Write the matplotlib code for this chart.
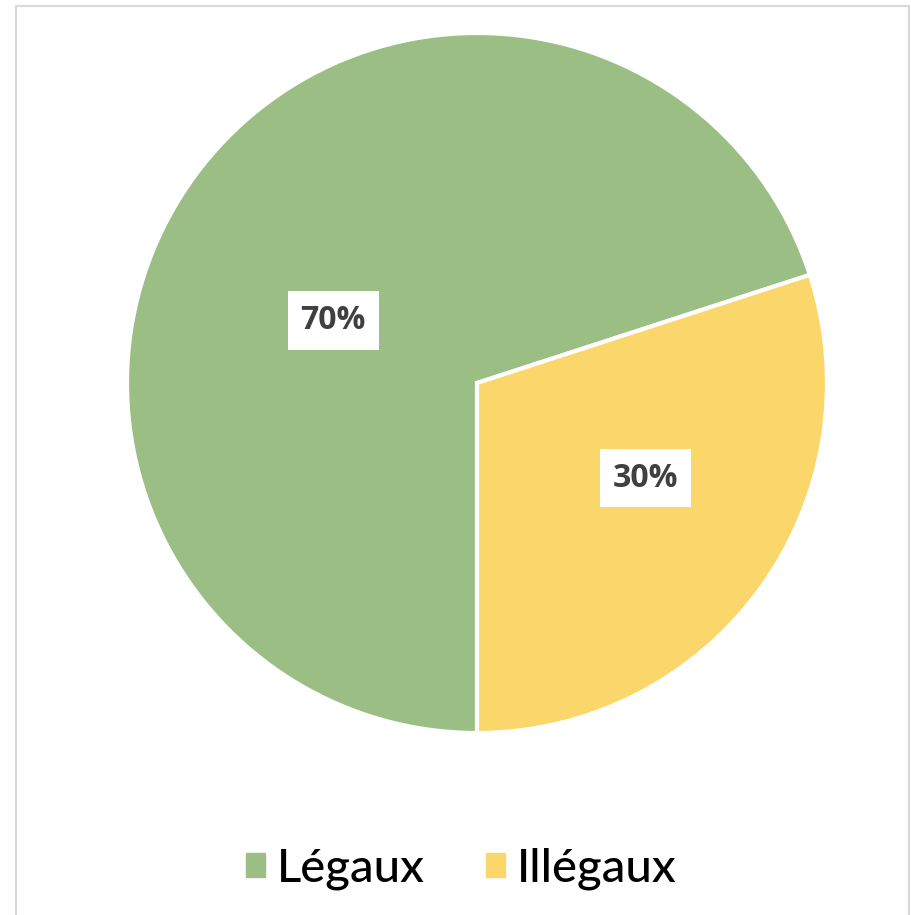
import matplotlib
matplotlib.use("Agg")
import numpy as np
import matplotlib.pyplot as plt
import matplotlib.patches as mpatches

# data
categories = ["Légaux", "Illégaux"]
shares = [70, 30]
colors = ["#9BBE84", "#FBD66B"]

fig = plt.figure(figsize=(9.12, 9.15), dpi=100)
fig.patch.set_facecolor("white")

# light grey frame around the chart area (open at the bottom)
frame = mpatches.Rectangle((16 / 912, -0.05), (909 - 16) / 912, 1.05 - 6 / 915,
                           transform=fig.transFigure, fill=False,
                           edgecolor="#D9D9D9", linewidth=1.5)
fig.add_artist(frame)

cx, cy, r = 477 / 912, 1 - 383 / 915, 350
ax = fig.add_axes([cx - r / 912, cy - r / 915, 2 * r / 912, 2 * r / 915])

wedges, _ = ax.pie(shares, colors=colors, startangle=-90, counterclock=False,
                   radius=1, wedgeprops=dict(edgecolor="white", linewidth=3))
ax.set_xlim(-1, 1)
ax.set_ylim(-1, 1)
ax.set_aspect("equal")
ax.axis("off")

# data labels in white boxes, slightly rotated off the slice middle
label_shift = [12, 7]
label_dist = [0.45, 0.55]
for w, val, sh, d in zip(wedges, shares, label_shift, label_dist):
    mid = np.deg2rad((w.theta1 + w.theta2) / 2 + sh)
    ax.text(d * np.cos(mid), d * np.sin(mid) - 0.005, f"{val}%",
            ha="center", va="center", fontsize=23, fontweight="bold",
            color="#404040", family="Open Sans",
            bbox=dict(boxstyle="square,pad=0.4", facecolor="white",
                      edgecolor="none"))

handles = [mpatches.Patch(color=c, label=l) for c, l in zip(colors, categories)]
fig.legend(handles=handles, loc="center", bbox_to_anchor=(0.506, 0.050),
           ncol=2, frameon=False, handlelength=0.4, handleheight=0.4,
           handletextpad=0.25, columnspacing=1.3,
           prop=dict(family="Lato", size=34, weight="medium"))

fig.savefig("out.png", dpi=100, facecolor="white")
